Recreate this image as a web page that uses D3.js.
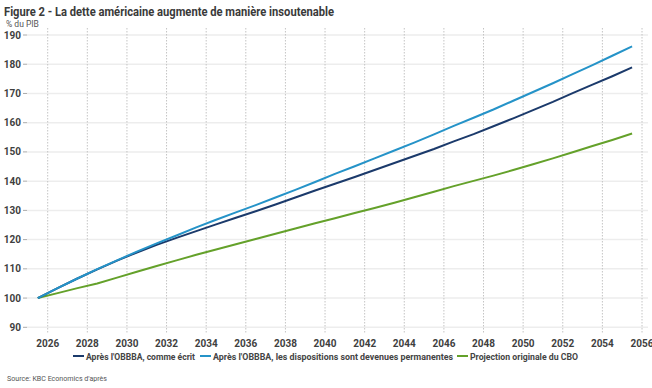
<!DOCTYPE html>
<html>
<head>
  <meta charset="utf-8">
  <title>Figure 2</title>
  <style>
    body { margin: 0; background: #fff; }
    svg { display: block; font-family: Roboto, 'Open Sans', sans-serif; }
  </style>
</head>
<body>
  <div id='chart'></div>
  <script src="https://d3js.org/d3.v7.min.js"></script>
  <script>
    // data (x = mid-year)
    let years = d3.range(2025, 2056);
    let asWritten = [100, 103.4, 106.7, 109.8, 112.8, 115.6, 118.2, 120.6, 122.9, 125.2,
      127.5, 129.7, 132.0, 134.4, 136.8, 139.1, 141.4, 143.8, 146.2, 148.6,
      151.0, 153.6, 156.1, 158.8, 161.5, 164.3, 167.1, 170.1, 173.0, 175.9, 178.9];
    let permanent = [100, 103.4, 106.7, 109.9, 112.9, 115.9, 118.7, 121.4, 124.2, 126.8,
      129.3, 131.8, 134.4, 137.0, 139.7, 142.5, 145.1, 147.8, 150.5, 153.2,
      156.0, 158.9, 161.7, 164.5, 167.5, 170.5, 173.5, 176.6, 179.7, 182.9, 186.1];
    let cbo = [100, 101.7, 103.4, 105.0, 107.0, 109.0, 111.0, 112.9, 114.8, 116.6,
      118.4, 120.2, 122.0, 123.8, 125.6, 127.3, 129.1, 130.8, 132.6, 134.5,
      136.4, 138.3, 140.1, 141.9, 143.8, 145.8, 147.8, 149.9, 152.0, 154.1, 156.3];
    let seriesNames = ["Après l'OBBBA, comme écrit",
      "Après l'OBBBA, les dispositions sont devenues permanentes",
      'Projection originale du CBO'];
    let seriesColors = ['#1b3a6b', '#2593c8', '#64a12a'];
    let xTicks = d3.range(2026, 2057, 2);
    let yTicks = d3.range(90, 191, 10);

    let svgWidth = 652;
    let svgHeight = 388;

    function translate(x, y) {
      return 'translate(' + x + ',' + y + ')';
    }

    let svg = d3.select('#chart').append('svg')
      .attr('width', svgWidth)
      .attr('height', svgHeight);

    let x = d3.scaleLinear().domain([2026, 2056]).range([47.7, 642]);
    let y = d3.scaleLinear().domain([90, 190]).range([327.3, 35]);

    // title
    svg.append('text')
      .attr('x', 4).attr('y', 16)
      .text('Figure 2 - La dette américaine augmente de manière insoutenable')
      .style('font-size', '12.5px').style('font-weight', 'bold').attr('fill', '#3a3a3a')
      .attr('textLength', 330).attr('lengthAdjust', 'spacingAndGlyphs');
    svg.append('text')
      .attr('x', 6).attr('y', 27)
      .text('% du PIB')
      .style('font-size', '8.5px').attr('fill', '#555');

    // horizontal grid + y labels
    let yAxis = svg.append('g').attr('class', 'yAxis');
    yAxis.selectAll('line.grid').data(yTicks).enter().append('line')
      .attr('x1', 27).attr('x2', 648)
      .attr('y1', d => y(d)).attr('y2', d => y(d))
      .attr('stroke', '#ededed').attr('stroke-width', 1.5);
    yAxis.selectAll('line.tick').data(yTicks).enter().append('line')
      .attr('x1', 23).attr('x2', 27)
      .attr('y1', d => y(d)).attr('y2', d => y(d))
      .attr('stroke', '#aaa').attr('stroke-width', 1);
    yAxis.selectAll('text').data(yTicks).enter().append('text')
      .attr('x', 21).attr('y', d => y(d) + 3.5)
      .attr('text-anchor', 'end')
      .text(d => d)
      .style('font-size', '10px').style('font-weight', 'bold').attr('fill', '#3f3f3f');

    // vertical dotted grid + x labels
    let xAxis = svg.append('g').attr('class', 'xAxis');
    xAxis.selectAll('line').data(xTicks).enter().append('line')
      .attr('x1', d => x(d)).attr('x2', d => x(d))
      .attr('y1', 28).attr('y2', 334)
      .attr('stroke', '#c4c4c4').attr('stroke-width', 1)
      .attr('stroke-dasharray', '1.5,1.5');
    xAxis.selectAll('text').data(xTicks).enter().append('text')
      .attr('x', d => x(d)).attr('y', 347)
      .attr('text-anchor', 'middle')
      .text(d => d)
      .style('font-size', '10px').style('font-weight', 'bold').attr('fill', '#3f3f3f');

    // lines
    let allSeries = [asWritten, permanent, cbo];
    let line = d3.line()
      .x((d, i) => x(years[i] + 0.5))
      .y(d => y(d));
    let order = [2, 0, 1];
    svg.selectAll('.line').data(order).enter().append('path')
      .attr('class', 'line')
      .attr('d', k => line(allSeries[k]))
      .style('fill', 'none')
      .style('stroke', k => seriesColors[k])
      .style('stroke-width', 2);

    // legend
    let legendStart = [73, 200, 457];
    let legendLen = [109, 240, 108];
    let legend = svg.append('g').attr('class', 'legend');
    seriesNames.forEach(function (name, i) {
      legend.append('line')
        .attr('x1', legendStart[i]).attr('x2', legendStart[i] + 11)
        .attr('y1', 356).attr('y2', 356)
        .attr('stroke', seriesColors[i]).attr('stroke-width', 2);
      legend.append('text')
        .attr('x', legendStart[i] + 13).attr('y', 359.5)
        .text(name)
        .attr('textLength', legendLen[i]).attr('lengthAdjust', 'spacingAndGlyphs')
        .style('font-size', '9.5px').style('font-weight', 'bold').attr('fill', '#444');
    });

    svg.append('text')
      .attr('x', 7).attr('y', 381)
      .text("Source: KBC Economics d'après")
      .attr('textLength', 100).attr('lengthAdjust', 'spacingAndGlyphs')
      .style('font-size', '8px').attr('fill', '#555');
  </script>
</body>
</html>
